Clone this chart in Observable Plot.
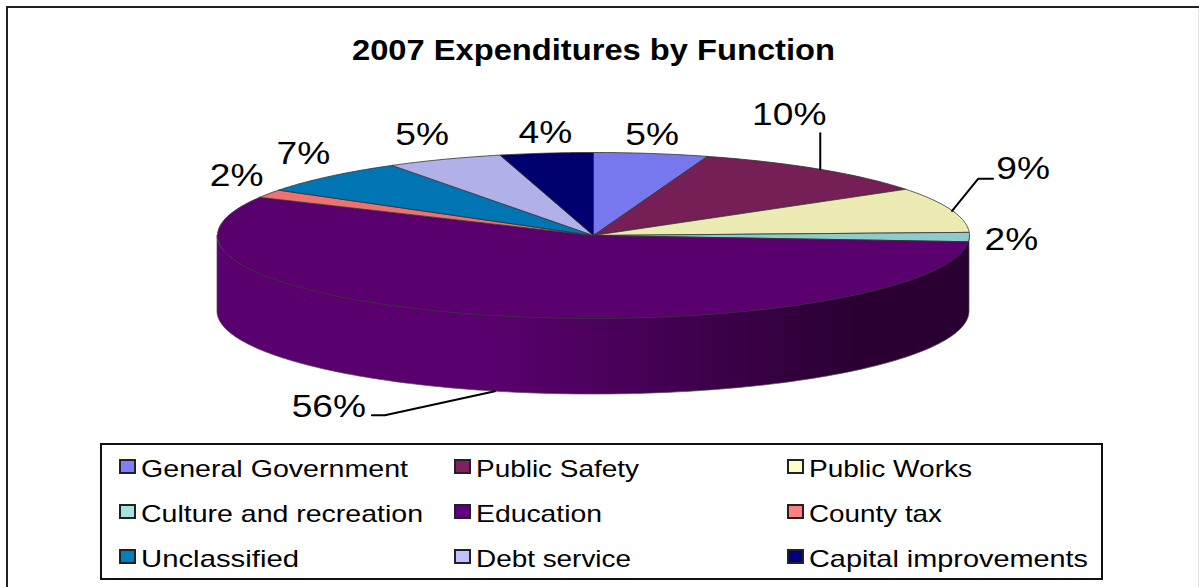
<!DOCTYPE html>
<html>
<head>
<meta charset="utf-8">
<script src="https://cdn.jsdelivr.net/npm/d3@7"></script>
<script src="https://cdn.jsdelivr.net/npm/@observablehq/plot@0.6"></script>
<style>
html,body{margin:0;padding:0;background:#fff;}
#page{position:relative;width:1199px;height:587px;overflow:hidden;font-family:"Liberation Sans",Arial,sans-serif;color:#000;}
#frame{position:absolute;left:6px;top:6px;right:0;bottom:-10px;border-left:2.5px solid #222;border-top:2.5px solid #222;box-sizing:border-box;}
#edge{position:absolute;left:1198px;top:9px;width:1px;bottom:0;background:#e4e4e4;}
#title{position:absolute;left:352px;top:35px;font-weight:bold;font-size:29px;line-height:30px;white-space:nowrap;transform-origin:0 0;}
#legend{position:absolute;left:100px;top:443px;width:1003px;height:137px;border:2px solid #111;box-sizing:border-box;}
.sw{position:absolute;width:17px;height:15px;border:2px solid #222;box-sizing:border-box;}
.lb{position:absolute;font-size:24px;line-height:28px;white-space:nowrap;transform-origin:0 0;}
svg{position:absolute;left:0;top:0;}
</style>
</head>
<body>
<div id="page">
<div id="frame"></div>
<div id="edge"></div>
<div id="chart"></div>
<div id="title">2007 Expenditures by Function</div>
<div id="legend"></div>
</div>
<script>
const categories = ["General Government","Public Safety","Public Works","Culture and recreation","Education","County tax","Unclassified","Debt service","Capital improvements"];
const shares = [4.9,10.7,8.8,1.8,56.4,1.6,6.8,5.0,4.0];
const percentLabels = ["5%","10%","9%","2%","56%","2%","7%","5%","4%"];
const faceColors = ["#7878ee","#761f57","#ecebb3","#8ecccc","#5a006e","#ee7272","#0075b3","#b1b1ea","#00006e"];
const legendColors = ["#8080ff","#802060","#ffffcc","#a6e4e0","#600080","#ff8080","#0080c0","#c0c0ff","#000080"];
// layout only: label offset in px from the slice's rim midpoint
const labelDx = [1,-30,72,42,-162,-32,-26,-22,-1];
const labelDy = [-19,-54,-41,3,15,-18,-23,-25,-20];
// leader lines, px offsets from the rim midpoint of their slice
const leaders = {1:[[1,0],[1,-36]],2:[[1,1],[27,-31],[42,-31]],4:[[4,0],[-106,24],[-119,24]]};

const RX = 376, RY = 83, DEPTH = 76;
const depthUnits = DEPTH / RY;
const rad = d => d * Math.PI / 180;
const px = (a) => Math.sin(rad(a));
const py = (a) => Math.cos(rad(a));

const total = d3.sum(shares);
let cum = 0;
const slices = categories.map((name,i)=>{
  const start = cum/total*360; cum += shares[i]; const end = cum/total*360;
  return {name,i,start,end,mid:(start+end)/2,label:percentLabels[i]};
});

const facePts = slices.flatMap(s=>{
  const pts=[{name:s.name,x:0,y:0}];
  const n=Math.max(2,Math.ceil(s.end-s.start));
  for(let k=0;k<=n;k++){const a=s.start+(s.end-s.start)*k/n;pts.push({name:s.name,x:px(a),y:py(a)});}
  pts.push({name:s.name,x:0,y:0});
  return pts;
});
const rim = d3.range(90,270.5,1).map(a=>({x:px(a),y1:py(a),y2:py(a)-depthUnits}));

const anchor = s=>{
  const a=s.mid, front=a>100&&a<260;
  return {x:px(a),y:py(a)-(front?depthUnits:0)};
};
const labelMarks = slices.map(s=>{
  const p=anchor(s);
  return Plot.text([{...p,label:s.label}],{x:"x",y:"y",text:"label",dx:labelDx[s.i],dy:labelDy[s.i],fontSize:32,fontFamily:"Liberation Sans",fill:"#000",className:"pct",textAnchor:"middle",lineAnchor:"middle"});
});
const leaderMarks = Object.entries(leaders).map(([i,off])=>{
  const p=anchor(slices[i]);
  return Plot.line(off.map(([dx,dy])=>({x:p.x+dx/RX,y:p.y-dy/RY})),{x:"x",y:"y",stroke:"#000",strokeWidth:2});
});

const plot = Plot.plot({
  width:1199,height:587,margin:0,
  style:{background:"transparent"},
  x:{domain:[-1,1],range:[217,969],axis:null},
  y:{domain:[-1,1],range:[318,152],axis:null},
  color:{domain:categories,range:faceColors},
  marks:[
    ()=>{const s=d3.create("svg:defs");
      const g=s.append("linearGradient").attr("id","sideGrad");
      [[0,"#5a006e"],[0.36,"#5a006e"],[0.85,"#2a0033"],[1,"#2a0033"]].forEach(([o,c])=>g.append("stop").attr("offset",o).attr("stop-color",c));
      return s.node();},
    Plot.areaY(rim,{x:"x",y1:"y1",y2:"y2",fill:"url(#sideGrad)",stroke:"#4a4a55",strokeWidth:0.7}),
    Plot.line(facePts,{x:"x",y:"y",fill:"name",z:"name",stroke:"#333",strokeWidth:0.8,curve:"linear"}),
    ...leaderMarks,
    ...labelMarks
  ]
});
document.getElementById("chart").appendChild(plot);
plot.querySelectorAll(".pct text").forEach(t=>{
  t.setAttribute("textLength",t.getComputedTextLength()*1.16);
  t.setAttribute("lengthAdjust","spacingAndGlyphs");
});

// legend
const legendRows=[459,504,549], legendSw=[119,454,787], legendTx=[141,476,809];
const lg=document.getElementById("legend");
categories.forEach((c,i)=>{
  const col=i%3,row=Math.floor(i/3);
  const sw=document.createElement("div");sw.className="sw";
  sw.style.left=(legendSw[col]-102)+"px";sw.style.top=(legendRows[row]-445)+"px";sw.style.background=legendColors[i];
  lg.appendChild(sw);
  const tx=document.createElement("div");tx.className="lb";tx.textContent=c;
  tx.style.left=(legendTx[col]-102)+"px";tx.style.top=(legendRows[row]-445-4)+"px";
  lg.appendChild(tx);
});
function fit(el,w){el.style.transform="none";const r=el.getBoundingClientRect().width;el.style.transform=`scaleX(${w/r})`;}
const widths=[267,163,163,282,126,133,158,155,279];
lg.querySelectorAll(".lb").forEach((el,i)=>fit(el,widths[i]));
fit(document.getElementById("title"),483);
</script>
</body>
</html>
